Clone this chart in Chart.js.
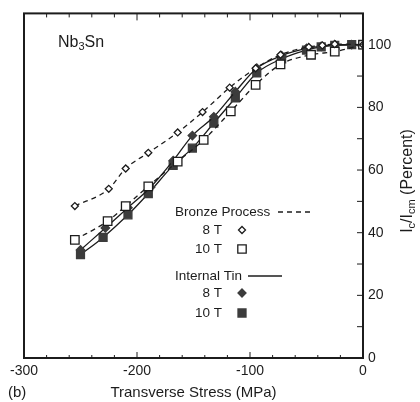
<!DOCTYPE html>
<html lang="en">
<head>
  <meta charset="UTF-8">
  <title>Nb3Sn critical current vs transverse stress</title>
  <script src="https://cdn.jsdelivr.net/npm/chart.js"></script>
  <style>
    body { margin: 0; background: #fff; }
    canvas { display: block; }
  </style>
</head>
<body>
  <canvas id="myChart" width="420" height="402"></canvas>

  <script>
    // stress in MPa, Ic/Icm in percent
    const bronze8Stress = [-255, -225, -210, -190, -164, -142, -118, -95, -73, -48, -36, -25, 0];
    const bronze8Ic = [48.5, 54, 60.5, 65.5, 72, 78.5, 86.3, 92.5, 96.8, 99.3, 99.8, 100.2, 100];

    const bronze10Stress = [-255, -226, -210, -190, -164, -141, -117, -95, -73, -46, -25, 0];
    const bronze10Ic = [37.7, 43.7, 48.5, 54.8, 62.7, 69.6, 78.7, 87.2, 93.7, 96.8, 97.8, 100];

    const tin8Stress = [-250, -228, -208, -188, -168, -151, -132, -113, -94, -72, -50, -37, -25, -10, 0];
    const tin8Ic = [34.5, 41.5, 48, 54.5, 63, 71, 77, 85, 92.5, 96.5, 98.8, 99.5, 100, 100, 100];

    const tin10Stress = [-250, -230, -208, -190, -168, -151, -132, -113, -94, -72, -50, -37, -25, -10, 0];
    const tin10Ic = [33, 38.5, 45.7, 52.5, 61.5, 67, 75, 83, 91, 95.5, 98.3, 99.3, 99.8, 100, 100];

    const xTicks = [-300, -200, -100, 0];
    const yTicks = [0, 20, 40, 60, 80, 100];

    const FONT = '"Liberation Sans", Arial, Helvetica, sans-serif';
    const INK = '#1c1c1c';
    const FILL = '#3c3c3c';

    function pts(xs, ys) {
      return xs.map((x, i) => ({ x: x, y: ys[i] }));
    }

    function series(label, xs, ys, style, radius, filled, dashed) {
      return {
        label: label,
        data: pts(xs, ys),
        showLine: true,
        borderColor: INK,
        borderWidth: 1.3,
        borderDash: dashed ? [5, 4] : [],
        cubicInterpolationMode: 'monotone',
        pointStyle: style,
        pointRadius: radius,
        pointBorderColor: filled ? FILL : INK,
        pointBackgroundColor: filled ? FILL : '#fff',
        pointBorderWidth: 1.3
      };
    }

    // simple marker shapes for the hand-drawn legend
    function marker(ctx, kind, x, y) {
      ctx.save();
      ctx.lineWidth = 1.3;
      ctx.beginPath();
      if (kind === 'openDiamond' || kind === 'fullDiamond') {
        const r = kind === 'openDiamond' ? 3.5 : 4;
        ctx.moveTo(x, y - r); ctx.lineTo(x + r, y); ctx.lineTo(x, y + r); ctx.lineTo(x - r, y); ctx.closePath();
      } else {
        const s = kind === 'openSquare' ? 4.2 : 4;
        ctx.rect(x - s, y - s, 2 * s, 2 * s);
      }
      if (kind.startsWith('full')) {
        ctx.fillStyle = FILL; ctx.fill(); ctx.strokeStyle = FILL;
      } else {
        ctx.fillStyle = '#fff'; ctx.fill(); ctx.strokeStyle = INK;
      }
      ctx.stroke();
      ctx.restore();
    }

    function richText(ctx, parts, x, y) {
      // parts: [text, size, dy]
      let cx = x;
      parts.forEach(p => {
        ctx.font = p[1] + 'px ' + FONT;
        ctx.fillText(p[0], cx, y + p[2]);
        cx += ctx.measureText(p[0]).width;
      });
      return cx - x;
    }

    function measureRich(ctx, parts) {
      let w = 0;
      parts.forEach(p => { ctx.font = p[1] + 'px ' + FONT; w += ctx.measureText(p[0]).width; });
      return w;
    }

    const decor = {
      id: 'decor',
      afterDraw(chart) {
        const ctx = chart.ctx;
        const a = chart.chartArea;
        const xs = chart.scales.x;
        const ys = chart.scales.y;
        ctx.save();

        // frame
        ctx.strokeStyle = INK;
        ctx.lineWidth = 2;
        ctx.strokeRect(a.left, a.top, a.right - a.left, a.bottom - a.top);

        // inward ticks
        ctx.lineWidth = 1;
        ctx.beginPath();
        for (let v = -280; v < 0; v += 20) {
          const px = xs.getPixelForValue(v);
          const major = v % 100 === 0;
          ctx.moveTo(px, a.top); ctx.lineTo(px, a.top + (major ? 7 : 4));
          ctx.moveTo(px, a.bottom); ctx.lineTo(px, a.bottom - (major ? 6 : 3));
        }
        for (let v = 10; v < 110; v += 10) {
          const py = ys.getPixelForValue(v);
          ctx.moveTo(a.right, py); ctx.lineTo(a.right - 6, py);
        }
        ctx.stroke();

        ctx.fillStyle = INK;
        ctx.textBaseline = 'middle';
        ctx.textAlign = 'left';

        // material label
        richText(ctx, [['Nb', 16, 0], ['3', 11, 4], ['Sn', 16, 0]], 58, 43);

        // panel label
        ctx.font = '15px ' + FONT;
        ctx.fillText('(b)', 8, 393);

        // legend
        ctx.font = '13.5px ' + FONT;
        ctx.fillText('Bronze Process', 175, 212);
        ctx.textAlign = 'right';
        ctx.fillText('8 T', 222, 230);
        ctx.fillText('10 T', 222, 249);
        ctx.fillText('8 T', 222, 293);
        ctx.fillText('10 T', 222, 313);
        ctx.textAlign = 'left';
        ctx.fillText('Internal Tin', 175, 276);

        ctx.lineWidth = 1.3;
        ctx.beginPath();
        ctx.setLineDash([5, 4]);
        ctx.moveTo(278, 212); ctx.lineTo(313, 212);
        ctx.stroke();
        ctx.setLineDash([]);
        ctx.beginPath();
        ctx.moveTo(248, 276); ctx.lineTo(282, 276);
        ctx.stroke();

        marker(ctx, 'openDiamond', 242, 230);
        marker(ctx, 'openSquare', 242, 249);
        marker(ctx, 'fullDiamond', 242, 293);
        marker(ctx, 'fullSquare', 242, 313);

        // y axis title, rotated, with subscripts
        const parts = [['I', 16, 0], ['c', 11, 4], ['/I', 16, 0], ['cm', 11, 4], [' (Percent)', 16, 0]];
        const w = measureRich(ctx, parts);
        ctx.translate(408, 181);
        ctx.rotate(-Math.PI / 2);
        ctx.textAlign = 'left';
        richText(ctx, parts, -w / 2, 0);

        ctx.restore();
      }
    };

    const ctx = document.getElementById('myChart').getContext('2d');
    new Chart(ctx, {
      type: 'scatter',
      data: {
        datasets: [
          series('Bronze Process 8 T', bronze8Stress, bronze8Ic, 'rectRot', 3.5, false, true),
          series('Bronze Process 10 T', bronze10Stress, bronze10Ic, 'rect', 6, false, true),
          series('Internal Tin 8 T', tin8Stress, tin8Ic, 'rectRot', 4.2, true, false),
          series('Internal Tin 10 T', tin10Stress, tin10Ic, 'rect', 5.6, true, false)
        ]
      },
      options: {
        responsive: false,
        animation: false,
        layout: { padding: { left: 24, top: 13, right: 0, bottom: 0 } },
        plugins: {
          legend: { display: false },
          tooltip: { enabled: false }
        },
        scales: {
          x: {
            type: 'linear',
            min: -300,
            max: 0,
            afterBuildTicks: s => { s.ticks = xTicks.map(v => ({ value: v })); },
            afterFit: s => { s.height = 44; },
            grid: { display: false, drawTicks: false },
            border: { display: false },
            ticks: {
              color: INK,
              padding: 5,
              maxRotation: 0,
              font: { family: FONT, size: 14 },
              callback: v => String(v)
            },
            title: {
              display: true,
              text: 'Transverse Stress (MPa)',
              color: INK,
              font: { family: FONT, size: 15 },
              padding: { top: 5, bottom: 0 }
            }
          },
          y: {
            position: 'right',
            min: 0,
            max: 110,
            afterBuildTicks: s => { s.ticks = yTicks.map(v => ({ value: v })); },
            afterFit: s => { s.width = 57; },
            grid: { display: false, drawTicks: false },
            border: { display: false },
            ticks: {
              color: INK,
              padding: 5,
              font: { family: FONT, size: 14 },
              callback: v => String(v)
            }
          }
        }
      },
      plugins: [decor]
    });
  </script>
</body>
</html>
